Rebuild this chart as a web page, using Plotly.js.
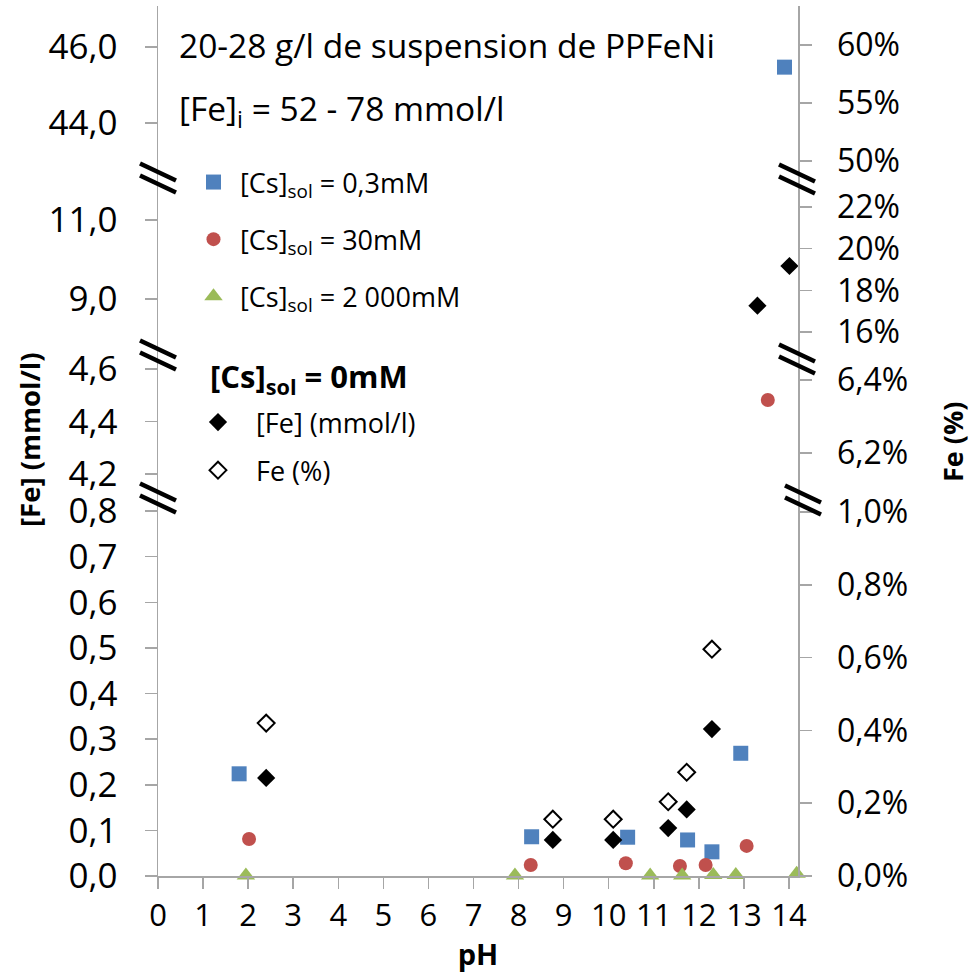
<!DOCTYPE html>
<html><head><meta charset="utf-8">
<script src="https://cdn.plot.ly/plotly-3.0.1.min.js"></script>
<style>body{margin:0;background:#fff}#chart{width:971px;height:973px}</style>
</head><body><div id="chart"></div>
<script>
// ---- data (pH, [Fe] mmol/l or Fe %) ----
const bluePH  = [1.80, 8.29, 10.42, 11.75, 12.29, 12.93, 13.90];
const blueFe  = [0.224, 0.086, 0.085, 0.079, 0.053, 0.269, 45.47];
const redPH   = [2.02, 8.27, 10.38, 11.58, 12.15, 13.06, 13.53];
const redFe   = [0.081, 0.024, 0.028, 0.022, 0.024, 0.066, 4.482];
const greenPH = [1.95, 7.92, 10.92, 11.63, 12.32, 12.82, 14.17];
const greenFe = [0.001, 0.001, 0.001, 0.001, 0.002, 0.002, 0.005];
const blackPH = [2.40, 8.76, 10.10, 11.32, 11.73, 12.29, 13.30, 14.01];
const blackFe = [0.215, 0.079, 0.079, 0.105, 0.146, 0.322, 8.83, 9.835];
const openPH  = [2.40, 8.76, 10.10, 11.32, 11.73, 12.29];
const openPct = [0.42, 0.156, 0.156, 0.204, 0.285, 0.623];

const xTicks = [0,1,2,3,4,5,6,7,8,9,10,11,12,13,14];
const leftTicks = [[0,0.1,0.2,0.3,0.4,0.5,0.6,0.7,0.8],[4.2,4.4,4.6],[9,11],[44,46]];
const leftText  = [['0,0','0,1','0,2','0,3','0,4','0,5','0,6','0,7','0,8'],['4,2','4,4','4,6'],['9,0','11,0'],['44,0','46,0']];
const rightTicks = [[0,0.2,0.4,0.6,0.8,1.0],[6.2,6.4],[16,18,20,22],[50,55,60]];
const rightText  = [['0,0%','0,2%','0,4%','0,6%','0,8%','1,0%'],['6,2%','6,4%'],['16%','18%','20%','22%'],['50%','55%','60%']];

// ---- layout geometry ----
const F = 'Open Sans, Noto Sans, sans-serif';
const L = 158, R = 798, T = 6, B = 876;
const px = x => (x - L) / (R - L);
const py = y => (B - y) / (B - T);
const segDom = [[B, 497], [497, 355], [355, 178], [178, T]];
const leftRange  = [[0, 0.8307], [4.1124, 4.6533], [7.5823, 12.0633], [42.553, 47.079]];
const rightRange = [[0, 1.0412], [6.0795, 6.4685], [14.896, 23.392], [48.534, 63.362]];
const leftAx  = ['y', 'y2', 'y3', 'y4'];
const rightAx = ['y5', 'y6', 'y7', 'y8'];

const axisCol = '#a6a6a6';
function yax(i, right) {
  const o = {
    domain: [py(segDom[i][0]), py(segDom[i][1])],
    range: right ? rightRange[i] : leftRange[i],
    anchor: 'x', showline: true, linecolor: axisCol, linewidth: 1.5,
    ticks: 'outside', ticklen: 12, tickcolor: axisCol, tickwidth: 1.5,
    showgrid: false, zeroline: false, fixedrange: true,
    tickmode: 'array',
    tickvals: right ? rightTicks[i] : leftTicks[i],
    ticktext: right ? rightText[i] : leftText[i],
    tickfont: {family: F, size: right ? 32 : 35, color: '#000'},
    ticklabelstandoff: right ? 19 : 20
  };
  if (right) { o.side = 'right'; o.overlaying = leftAx[i]; }
  return o;
}

const layout = {
  width: 971, height: 973,
  margin: {l: L, r: 971 - R, t: T, b: 973 - B},
  paper_bgcolor: '#fff', plot_bgcolor: 'rgba(0,0,0,0)',
  font: {family: F, color: '#000'},
  xaxis: {
    domain: [0, 1], range: [0, 14.2], anchor: 'y',
    showline: true, linecolor: axisCol, linewidth: 1.5,
    ticks: 'outside', ticklen: 11, tickcolor: axisCol, tickwidth: 1.5,
    tickmode: 'array', tickvals: xTicks,
    showgrid: false, zeroline: false, fixedrange: true,
    tickfont: {family: F, size: 31, color: '#000'},
    title: {text: '<b>pH</b>', font: {family: F, size: 29, color: '#000'}, standoff: 4}
  },
  showlegend: true,
  legend: {
    x: px(187), y: py(158), xanchor: 'left', yanchor: 'top',
    bgcolor: 'rgba(0,0,0,0)', borderwidth: 0,
    font: {family: F, size: 27, color: '#000'},
    tracegroupgap: 19, itemwidth: 43
  },
  legend2: {
    x: px(180), y: py(398), xanchor: 'left', yanchor: 'top',
    bgcolor: 'rgba(0,0,0,0)', borderwidth: 0,
    font: {family: F, size: 27, color: '#000'},
    tracegroupgap: 10, itemwidth: 66
  },
  annotations: [
    {xref: 'paper', yref: 'paper', x: px(177), y: py(45), xanchor: 'left', yanchor: 'middle',
     text: '20-28 g/l de suspension de PPFeNi', showarrow: false, font: {family: F, size: 33.5}},
    {xref: 'paper', yref: 'paper', x: px(177), y: py(110), xanchor: 'left', yanchor: 'middle',
     text: '[Fe]<sub>i</sub> = 52 - 78 mmol/l', showarrow: false, font: {family: F, size: 33.5}},
    {xref: 'paper', yref: 'paper', x: px(208), y: py(378), xanchor: 'left', yanchor: 'middle',
     text: '<b>[Cs]<sub>sol</sub> = 0mM</b>', showarrow: false, font: {family: F, size: 31}},
    {xref: 'paper', yref: 'paper', x: px(29), y: py(440), xanchor: 'center', yanchor: 'middle',
     text: '<b>[Fe] (mmol/l)</b>', textangle: -90, showarrow: false, font: {family: F, size: 27.5}},
    {xref: 'paper', yref: 'paper', x: px(953), y: py(442), xanchor: 'center', yanchor: 'middle',
     text: '<b>Fe (%)</b>', textangle: -90, showarrow: false, font: {family: F, size: 27}}
  ],
  shapes: []
};
for (let i = 0; i < 4; i++) {
  layout[i === 0 ? 'yaxis' : 'yaxis' + (i + 1)] = yax(i, false);
  layout['yaxis' + (i + 5)] = yax(i, true);
}

// break marks "//"
const breaks = [[158, 178], [797, 179], [158, 355], [797, 359], [158, 498], [803, 500]];
breaks.forEach(([cx, cy]) => {
  [-6, 6].forEach(d => {
    layout.shapes.push({type: 'line', xref: 'paper', yref: 'paper', layer: 'above',
      x0: px(cx - 18), y0: py(cy + d - 8.5), x1: px(cx + 18), y1: py(cy + d + 8.5),
      line: {color: '#000', width: 4.5}});
  });
});

// ---- traces: split points into axis segments ----
function segOf(v, ranges) {
  for (let i = 0; i < ranges.length; i++) if (v >= ranges[i][0] - 0.05 && v <= ranges[i][1]) return i;
  return 0;
}
const traces = [];
const usedAx = {};
function addSeries(name, xs, ys, marker, legendName, onRight) {
  const ranges = onRight ? rightRange : leftRange;
  const groups = {};
  xs.forEach((x, k) => {
    const s = segOf(ys[k], ranges);
    (groups[s] = groups[s] || {x: [], y: []});
    groups[s].x.push(x); groups[s].y.push(ys[k]);
  });
  let first = true;
  [0, 1, 2, 3].forEach(s => {
    if (!groups[s]) return;
    const ax = onRight ? rightAx[s] : leftAx[s];
    usedAx[ax] = true;
    traces.push({type: 'scatter', mode: 'markers', x: groups[s].x, y: groups[s].y,
      xaxis: 'x', yaxis: ax, name: name, marker: marker,
      legend: legendName, legendgroup: name, showlegend: first, cliponaxis: false,
      hoverinfo: 'x+y'});
    first = false;
  });
}
addSeries('[Cs]<sub>sol</sub> = 0,3mM', bluePH, blueFe, {symbol: 'square', size: 15, color: '#4F81BD'}, 'legend', false);
addSeries('[Cs]<sub>sol</sub> = 30mM', redPH, redFe, {symbol: 'circle', size: 14, color: '#C0504D'}, 'legend', false);
addSeries('[Cs]<sub>sol</sub> = 2 000mM', greenPH, greenFe, {symbol: 'triangle-up', size: 16, color: '#9BBB59'}, 'legend', false);
addSeries('[Fe] (mmol/l)', blackPH, blackFe, {symbol: 'diamond', size: 14, color: '#000'}, 'legend2', false);
addSeries('Fe (%)', openPH, openPct, {symbol: 'diamond-open', size: 13, color: '#000', line: {width: 2, color: '#000'}}, 'legend2', true);
// empty (no-point) traces so that every axis segment is drawn
leftAx.concat(rightAx).forEach(ax => {
  if (!usedAx[ax]) traces.push({type: 'scatter', mode: 'markers', x: [null], y: [null],
    xaxis: 'x', yaxis: ax, showlegend: false, hoverinfo: 'skip'});
});

Plotly.newPlot('chart', traces, layout, {displayModeBar: false, staticPlot: true});
</script></body></html>
